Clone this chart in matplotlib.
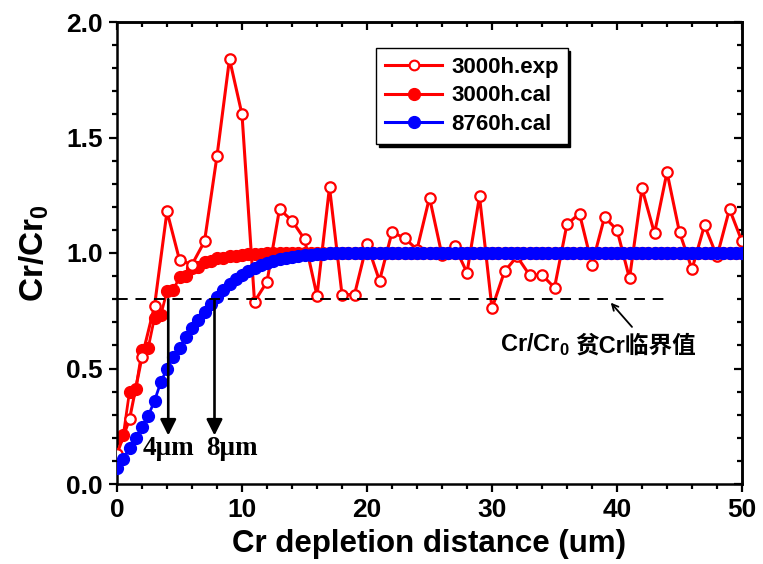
import numpy as np
import matplotlib
matplotlib.use("Agg")
import matplotlib.pyplot as plt
from matplotlib.lines import Line2D
from matplotlib.ticker import MultipleLocator, FormatStrFormatter

plt.rcParams['font.family'] = ['Liberation Sans', 'Noto Sans CJK SC', 'DejaVu Sans']
plt.rcParams['font.weight'] = 'bold'
plt.rcParams['mathtext.fontset'] = 'custom'
plt.rcParams['mathtext.rm'] = 'Liberation Sans:bold'
plt.rcParams['mathtext.bf'] = 'Liberation Sans:bold'

# ---- data -------------------------------------------------------------
# measured profile, 3000 h (one point per micron)
exp_x = list(range(0, 51))
exp_3000h = [0.13, 0.28, 0.55, 0.77, 1.18, 0.97, 0.95, 1.05, 1.42, 1.84,
             1.60, 0.79, 0.875, 1.19, 1.14, 1.06, 0.815, 1.285, 0.82, 0.82,
             1.04, 0.88, 1.09, 1.065, 1.015, 1.24, 0.99, 1.03, 0.915, 1.245,
             0.76, 0.92, 0.985, 0.905, 0.905, 0.85, 1.125, 1.17, 0.95, 1.155,
             1.10, 0.89, 1.28, 1.085, 1.35, 1.09, 0.93, 1.12, 0.985, 1.19,
             1.05]

# calculated profiles (0.5 um grid)
cal_x = np.arange(0, 50.5, 0.5)
cal_3000h = [0.20, 0.21, 0.40, 0.41, 0.58, 0.59, 0.72, 0.73, 0.835, 0.84,
             0.895, 0.90, 0.935, 0.94, 0.96, 0.965, 0.978, 0.98, 0.987, 0.989,
             0.993, 0.994, 0.996, 0.997, 0.998, 0.999, 1.0, 1.0, 1.0, 1.0,
             1.0, 1.0, 1.0, 1.0, 1.0, 1.0, 1.0, 1.0, 1.0, 1.0,
             1.0, 1.0, 1.0, 1.0, 1.0, 1.0, 1.0, 1.0, 1.0, 1.0,
             1.0, 1.0, 1.0, 1.0, 1.0, 1.0, 1.0, 1.0, 1.0, 1.0,
             1.0, 1.0, 1.0, 1.0, 1.0, 1.0, 1.0, 1.0, 1.0, 1.0,
             1.0, 1.0, 1.0, 1.0, 1.0, 1.0, 1.0, 1.0, 1.0, 1.0,
             1.0, 1.0, 1.0, 1.0, 1.0, 1.0, 1.0, 1.0, 1.0, 1.0,
             1.0, 1.0, 1.0, 1.0, 1.0, 1.0, 1.0, 1.0, 1.0, 1.0,
             1.0]
cal_8760h = [0.07, 0.11, 0.155, 0.20, 0.245, 0.295, 0.36, 0.44, 0.50, 0.55,
             0.59, 0.635, 0.675, 0.71, 0.745, 0.78, 0.81, 0.84, 0.865, 0.888,
             0.906, 0.922, 0.936, 0.948, 0.958, 0.966, 0.973, 0.979, 0.984, 0.988,
             0.991, 0.993, 0.995, 0.997, 0.998, 0.999, 1.0, 1.0, 1.0, 1.0,
             1.0, 1.0, 1.0, 1.0, 1.0, 1.0, 1.0, 1.0, 1.0, 1.0,
             1.0, 1.0, 1.0, 1.0, 1.0, 1.0, 1.0, 1.0, 1.0, 1.0,
             1.0, 1.0, 1.0, 1.0, 1.0, 1.0, 1.0, 1.0, 1.0, 1.0,
             1.0, 1.0, 1.0, 1.0, 1.0, 1.0, 1.0, 1.0, 1.0, 1.0,
             1.0, 1.0, 1.0, 1.0, 1.0, 1.0, 1.0, 1.0, 1.0, 1.0,
             1.0, 1.0, 1.0, 1.0, 1.0, 1.0, 1.0, 1.0, 1.0, 1.0,
             1.0]

critical_ratio = 0.8
critical_end = 44
depth_3000h = 4.1
depth_8760h = 7.8
depth_labels = ['4\u03bcm', '8\u03bcm']
series_labels = ['3000h.exp', '3000h.cal', '8760h.cal']

# ---- figure -----------------------------------------------------------
W, H = 763, 564
fig = plt.figure(figsize=(W / 100, H / 100), dpi=100)
ax = fig.add_axes([117 / W, 1 - 484 / H, 625 / W, 462 / H])

RED = '#ff0000'
BLUE = '#0000ff'

ax.plot(cal_x, cal_3000h, color=RED, lw=2.0, marker='o', ms=8.5,
        mec=RED, mfc=RED, zorder=2)
ax.plot(exp_x, exp_3000h, color=RED, lw=2.2, marker='o', ms=7.5,
        mfc='white', mec=RED, mew=1.6, zorder=3)
ax.plot(cal_x, cal_8760h, color=BLUE, lw=2.0, marker='o', ms=8.5,
        mec=BLUE, mfc=BLUE, zorder=4)

# critical ratio line
ax.plot([0, critical_end], [critical_ratio, critical_ratio], color='black',
        lw=1.4, ls=(0, (5.5, 4)), zorder=5)

# depletion depth arrows
for xd, lab, xt in zip([depth_3000h, depth_8760h], depth_labels, [4.1, 9.2]):
    ax.annotate('', xy=(xd, 0.21), xytext=(xd, critical_ratio),
                arrowprops=dict(arrowstyle='-|>', color='black', lw=1.9,
                                mutation_scale=24, shrinkA=0, shrinkB=0),
                zorder=6)
    ax.text(xt, 0.125, lab, ha='center', va='baseline', fontsize=19.5,
            fontweight='bold', family='Liberation Serif', zorder=6)

# critical-value note
ax.annotate('', xy=(39.5, 0.785), xytext=(41.2, 0.68),
            arrowprops=dict(arrowstyle='->', color='black', lw=1.3,
                            mutation_scale=11, shrinkA=0, shrinkB=0), zorder=6)
t1 = ax.text(30.6, 0.571, r'Cr/Cr$_\mathbf{0}$', ha='left', va='baseline',
             fontsize=17, fontweight='bold', zorder=6)
fig.canvas.draw()
bb = t1.get_window_extent(renderer=fig.canvas.get_renderer())
x_disp = bb.x1 - 1
x_dat = ax.transData.inverted().transform((x_disp, 0))[0]
ax.text(x_dat, 0.571, '\u8d2bCr\u4e34\u754c\u503c', ha='left', va='baseline',
        fontsize=17, fontweight='bold',
        family=['Liberation Sans', 'Noto Sans CJK SC'], zorder=6)

# axes, ticks
ax.set_xlim(0, 50)
ax.set_ylim(0, 2.0)
ax.xaxis.set_major_locator(MultipleLocator(10))
ax.xaxis.set_minor_locator(MultipleLocator(2))
ax.yaxis.set_major_locator(MultipleLocator(0.5))
ax.yaxis.set_minor_locator(MultipleLocator(0.1))
ax.yaxis.set_major_formatter(FormatStrFormatter('%.1f'))
ax.tick_params(which='both', direction='out', top=False, right=False,
               width=1.6, labelsize=19)
ax.tick_params(which='major', length=6, pad=4)
ax.tick_params(which='minor', length=3.5)
for lab in ax.get_xticklabels() + ax.get_yticklabels():
    lab.set_fontweight('bold')
for sp in ax.spines.values():
    sp.set_linewidth(1.8)

secx = ax.secondary_xaxis('top')
secx.xaxis.set_major_locator(MultipleLocator(10))
secx.xaxis.set_minor_locator(MultipleLocator(2))
secx.tick_params(which='both', direction='in', labeltop=False, width=1.6)
secx.tick_params(which='major', length=6)
secx.tick_params(which='minor', length=3.5)
secx.spines['top'].set_linewidth(1.8)

secy = ax.secondary_yaxis('right')
secy.yaxis.set_major_locator(MultipleLocator(0.5))
secy.yaxis.set_minor_locator(MultipleLocator(0.1))
secy.tick_params(which='both', direction='in', labelright=False, width=1.6)
secy.tick_params(which='major', length=6)
secy.tick_params(which='minor', length=3.5)
secy.spines['right'].set_linewidth(1.8)

ax.set_xlabel('Cr depletion distance (um)', fontsize=22.5, fontweight='bold',
              labelpad=5)
ax.set_ylabel(r'Cr/Cr$_\mathbf{0}$', fontsize=24, fontweight='bold', labelpad=11)

# legend
handles = [
    Line2D([], [], color=RED, lw=2.2, marker='o', ms=7, mfc='white', mec=RED, mew=1.5),
    Line2D([], [], color=RED, lw=2.2, marker='o', ms=8.5, mfc=RED, mec=RED),
    Line2D([], [], color=BLUE, lw=2.2, marker='o', ms=8.5, mfc=BLUE, mec=BLUE),
]
leg = ax.legend(handles, series_labels, loc='upper left',
                bbox_to_anchor=(0.414, 0.944), borderaxespad=0,
                fancybox=False, shadow={'color': 'black', 'alpha': 1},
                edgecolor='black', framealpha=1,
                prop=dict(weight='bold', size=16), handlelength=2.6,
                handletextpad=0.4, borderpad=0.4, labelspacing=0.34)
leg.get_frame().set_linewidth(1.0)
leg.set_zorder(10)

fig.savefig('out.png', dpi=100)
